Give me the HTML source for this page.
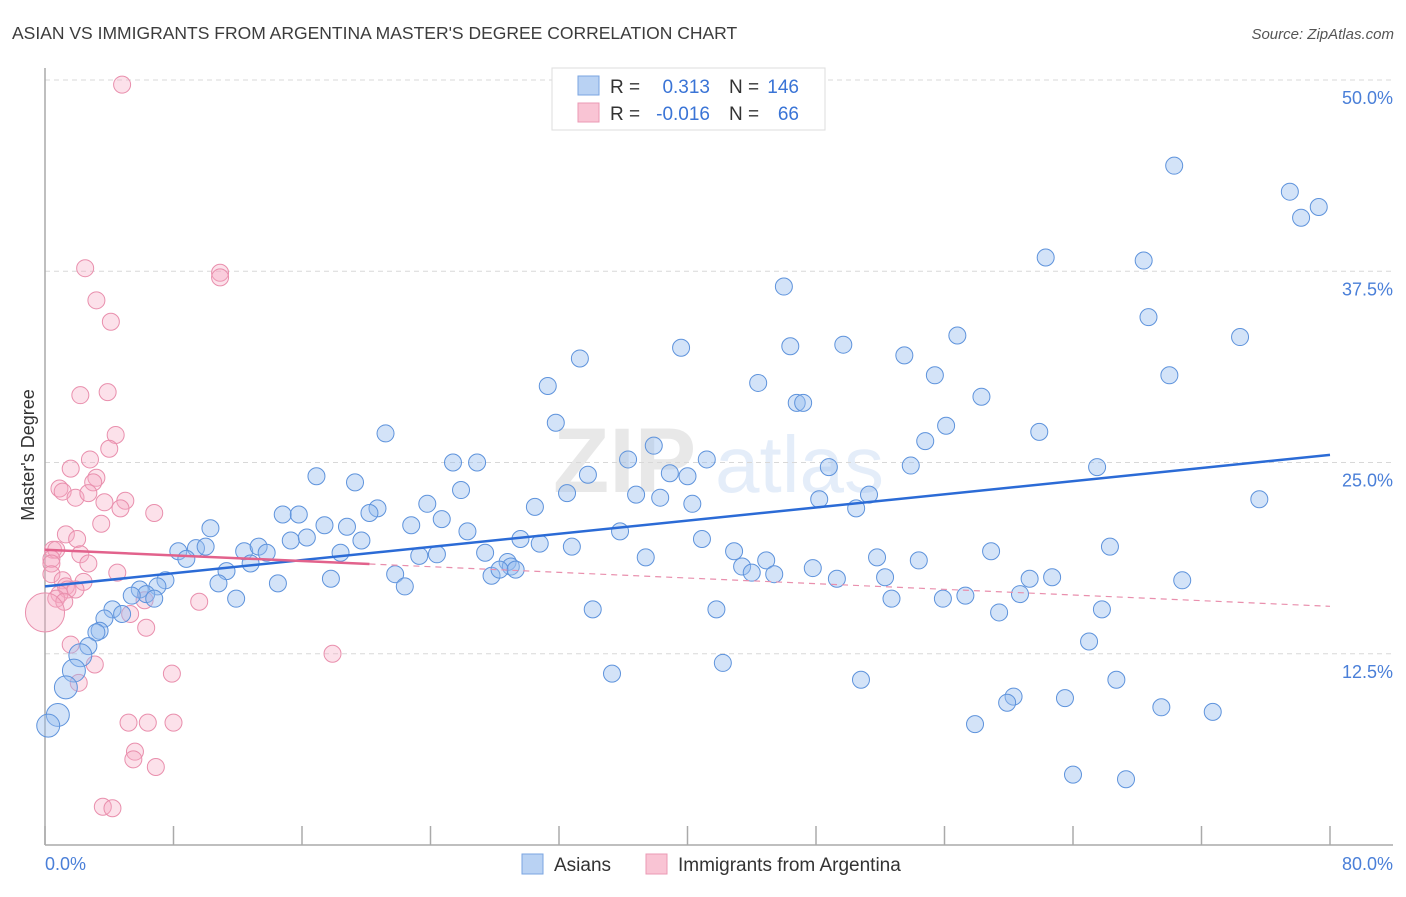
<!DOCTYPE html>
<html><head><meta charset="utf-8"><style>
body{margin:0;background:#fff;font-family:"Liberation Sans",sans-serif}
svg text{font-family:"Liberation Sans",sans-serif}
</style></head><body>
<svg id="chart" width="1406" height="892" viewBox="0 0 1406 892" xmlns="http://www.w3.org/2000/svg">
<text x="12" y="39" font-size="17.5" fill="#3c3c3c">ASIAN VS IMMIGRANTS FROM ARGENTINA MASTER'S DEGREE CORRELATION CHART</text>
<text x="1394" y="39" font-size="15" fill="#555" text-anchor="end" font-style="italic">Source: ZipAtlas.com</text>
<g opacity="0.13">
<text x="553" y="492" font-size="92" font-weight="bold" fill="#555">ZIP</text>
<text x="715" y="492" font-size="80" fill="#3a78d8">atlas</text>
</g>
<g id="grid"></g>
<g id="axes"></g>
<g id="pts"></g>
<g id="trends"></g>
<text transform="translate(34,455) rotate(-90)" font-size="18" fill="#333" text-anchor="middle">Master's Degree</text>
<g>
<rect x="552" y="68" width="273" height="62" fill="#fff" stroke="#ddd"/>
<rect x="578" y="76" width="21" height="19" fill="#b9d2f3" stroke="#7aa4e2"/>
<rect x="578" y="103" width="21" height="19" fill="#f9c4d4" stroke="#eb9ab4"/>
<text x="610" y="93" font-size="19" fill="#333">R =</text>
<text x="710" y="93" font-size="19" fill="#3a74d6" text-anchor="end">0.313</text>
<text x="729" y="93" font-size="19" fill="#333">N =</text>
<text x="799" y="93" font-size="19" fill="#3a74d6" text-anchor="end">146</text>
<text x="610" y="120" font-size="19" fill="#333">R =</text>
<text x="710" y="120" font-size="19" fill="#3a74d6" text-anchor="end">-0.016</text>
<text x="729" y="120" font-size="19" fill="#333">N =</text>
<text x="799" y="120" font-size="19" fill="#3a74d6" text-anchor="end">66</text>
</g>
<g>
<g><rect x="522" y="854" width="21" height="20" fill="#b9d2f3" stroke="#7aa4e2"/><text x="554" y="871" font-size="19" fill="#333">Asians</text></g>
<g><rect x="646" y="854" width="21" height="20" fill="#f9c4d4" stroke="#eb9ab4"/><text x="678" y="871" font-size="19" fill="#333">Immigrants from Argentina</text></g>
</g>
</svg>
<script>
const asianX=[70.3,77.5,78.2,79.3,62.3,68.4,46.0,68.7,33.3,39.6,46.4,49.7,53.5,56.8,74.4,55.4,44.4,31.3,70.0,58.3,46.8,47.2,31.8,21.2,37.9,56.1,54.8,61.9,25.4,26.9,36.3,38.9,41.2,48.8,53.9,65.5,16.9,19.3,33.8,40.0,25.9,32.5,36.8,38.3,48.2,51.3,75.6,23.8,20.7,20.2,30.5,40.3,50.5,14.8,15.8,10.3,17.4,18.8,22.8,24.7,26.3,35.8,29.6,30.8,40.9,15.3,16.3,19.7,32.8,66.3,8.3,9.4,10.0,12.4,13.3,13.8,8.8,12.8,18.4,27.4,23.3,24.4,28.8,29.0,37.4,42.9,44.9,51.8,54.4,58.9,43.4,44.0,45.4,47.8,49.3,52.3,61.3,62.7,70.8,11.3,21.8,27.8,28.3,29.3,17.8,10.8,14.5,22.4,7.5,7.0,5.9,6.3,5.4,6.8,11.9,52.7,55.9,57.3,60.7,59.4,65.8,34.1,41.8,4.2,4.8,3.7,3.4,3.2,2.7,2.2,65.0,42.2,1.8,1.3,35.3,50.8,66.7,60.3,59.9,63.5,69.5,72.7,57.9,0.8,0.2,64.0,67.3];
const asianY=[44.4,42.7,41.0,41.7,38.4,38.2,36.5,34.5,31.8,32.5,32.6,32.7,32.0,33.3,33.2,30.7,30.2,30.0,30.7,29.3,28.9,28.9,27.6,26.9,26.1,27.4,26.4,27.0,25.0,25.0,25.2,24.3,25.2,24.7,24.8,24.7,24.1,23.7,24.2,24.1,23.2,23.0,22.9,22.7,22.6,22.9,22.6,22.3,22.0,21.7,22.1,22.3,22.0,21.6,21.6,20.7,20.9,20.8,20.9,21.3,20.5,20.5,20.0,19.7,20.0,19.9,20.1,19.9,19.5,19.5,19.2,19.4,19.5,19.2,19.5,19.1,18.7,18.4,19.1,19.1,18.9,19.0,18.5,18.2,18.8,19.2,18.6,18.8,18.6,19.2,18.2,17.8,17.7,18.1,17.4,17.5,17.4,17.5,17.3,17.9,17.7,17.6,18.0,18.0,17.4,17.1,17.1,16.9,17.3,16.9,16.7,16.4,16.3,16.1,16.1,16.1,16.1,16.3,16.4,15.2,15.4,15.4,15.4,15.4,15.1,14.8,14.0,13.9,13.0,12.4,13.3,11.9,11.4,10.3,11.2,10.8,10.8,9.7,9.3,9.6,9.0,8.7,7.9,8.5,7.8,4.6,4.3];
const argX=[4.8,2.5,10.9,10.9,3.2,4.1,2.2,3.9,4.4,4.0,2.8,1.6,3.2,3.0,0.9,1.1,1.9,2.7,5.0,3.7,4.7,6.8,3.5,1.3,2.0,0.5,0.7,0.4,0.4,2.2,2.7,4.5,0.4,1.1,2.4,1.3,1.4,1.9,0.9,0.7,1.2,6.2,9.6,5.3,6.3,1.6,3.1,7.9,2.1,17.9,5.2,6.4,8.0,5.6,5.5,6.9,3.6,4.2,0.0];
const argY=[49.7,37.7,37.4,37.1,35.6,34.2,29.4,29.6,26.8,25.9,25.2,24.6,24.0,23.7,23.3,23.1,22.7,23.0,22.5,22.4,22.0,21.7,21.0,20.3,20.0,19.3,19.3,18.7,18.4,19.0,18.4,17.8,17.7,17.3,17.2,16.9,16.7,16.7,16.4,16.1,15.9,16.0,15.9,15.1,14.2,13.1,11.8,11.2,10.6,12.5,8.0,8.0,8.0,6.1,5.6,5.1,2.5,2.4,15.2];
const argSize=[1,1,1,1,1,1,1,1,1,1,1,1,1,1,1,1,1,1,1,1,1,1,1,1,1,1,1,1,1,1,1,1,1,1,1,1,1,1,1,1,1,1,1,1,1,1,1,1,1,1,1,1,1,1,1,1,1,1,2.3];
const yTicks=[12.5,25.0,37.5,50.0];
const yTickLabels=["12.5%","25.0%","37.5%","50.0%"];
const xTicks=[0,8,16,24,32,40,48,56,64,72,80];
const asianTrend=[16.9,25.5];
const argTrend=[19.3,15.6];
const argSolidEnd=20.2;

const NS="http://www.w3.org/2000/svg";
const X0=45,X1=1330,YB=845,YT=80;
const sx=v=>X0+(v/80)*(X1-X0);
const sy=v=>YB-(v/50)*(YB-YT);
function mk(tag,attrs,parent){const e=document.createElementNS(NS,tag);for(const k in attrs)e.setAttribute(k,attrs[k]);parent.appendChild(e);return e;}
const grid=document.getElementById('grid'),axes=document.getElementById('axes'),pts=document.getElementById('pts'),tr=document.getElementById('trends');
yTicks.forEach((t,i)=>{
  const l=mk('line',{x1:X0,x2:1393,y1:sy(t),y2:sy(t),stroke:'#d8d8d8','stroke-dasharray':'5,4'},grid);
  
  
  const tx=mk('text',{x:1393,y:sy(t)+24,'font-size':18,fill:'#4a7fd8','text-anchor':'end'},axes);
  tx.textContent=yTickLabels[i];
  
  
});
const ya=mk('line',{x1:X0,x2:X0,y1:68,y2:YB,stroke:'#aaa','stroke-width':1.5},axes);


const xa=mk('line',{x1:X0,x2:1393,y1:YB,y2:YB,stroke:'#aaa','stroke-width':1.5},axes);


xTicks.forEach(t=>{
  const l=mk('line',{x1:sx(t),x2:sx(t),y1:826,y2:YB,stroke:'#aaa','stroke-width':1.5},axes);
  
  
});
const xl0=mk('text',{x:45,y:870,'font-size':18,fill:'#4a7fd8'},axes);xl0.textContent='0.0%';


const xl1=mk('text',{x:1393,y:870,'font-size':18,fill:'#4a7fd8','text-anchor':'end'},axes);xl1.textContent='80.0%';



argX.forEach((v,i)=>{
  const c=mk('circle',{cx:sx(v),cy:sy(argY[i]),r:8.5*argSize[i],fill:'rgba(246,170,196,0.35)',stroke:'#e98fad','stroke-width':1},pts);
  
  
});
asianX.forEach((v,i)=>{
  const big=v<2.5?1.35:1;
  const c=mk('circle',{cx:sx(v),cy:sy(asianY[i]),r:8.5*big,fill:'rgba(150,188,238,0.42)',stroke:'#5e93dc','stroke-width':1},pts);
  
  
});
const at=mk('line',{x1:sx(0),y1:sy(asianTrend[0]),x2:sx(80),y2:sy(asianTrend[1]),stroke:'#2b6bd6','stroke-width':2.5},tr);


const argAt=x=>argTrend[0]+(argTrend[1]-argTrend[0])*x/80;
const p1=mk('line',{x1:sx(0),y1:sy(argAt(0)),x2:sx(argSolidEnd),y2:sy(argAt(argSolidEnd)),stroke:'#e2628c','stroke-width':2.5},tr);


const p2=mk('line',{x1:sx(argSolidEnd),y1:sy(argAt(argSolidEnd)),x2:sx(80),y2:sy(argAt(80)),stroke:'#e98fad','stroke-width':1.2,'stroke-dasharray':'6,5'},tr);


</script>
</body></html>
